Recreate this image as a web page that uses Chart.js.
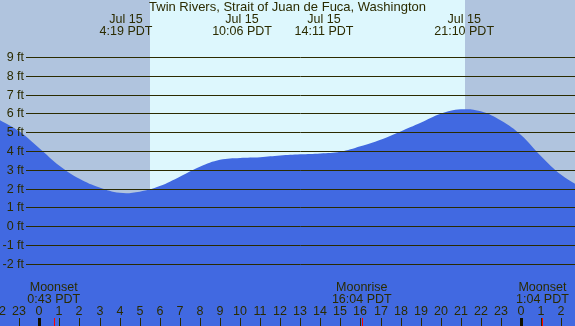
<!DOCTYPE html>
<html>
<head>
<meta charset="utf-8">
<script src="https://cdn.jsdelivr.net/npm/chart.js@4/dist/chart.umd.min.js"></script>
<style>
  html, body { margin: 0; padding: 0; background: #b0c4de; overflow: hidden; }
  canvas { display: block; }
</style>
</head>
<body>
<canvas id="tideChart" width="575" height="326"></canvas>
<script>
const stationName = 'Twin Rivers, Strait of Juan de Fuca, Washington';

// hours counted from midnight Jul 15 (negative = Jul 14, over 24 = Jul 16)
const hours = [-2, -1, 0, 1, 2, 3, 4, 5, 6, 7, 8, 9, 10, 11, 12, 13, 14,
               15, 16, 17, 18, 19, 20, 21, 22, 23, 24, 25, 26, 27];
const heights = [5.67, 5.05, 4.15, 3.22, 2.52, 2.05, 1.77, 1.83, 2.13, 2.63, 3.16, 3.53, 3.63, 3.67, 3.76,
                 3.82, 3.87, 3.96, 4.25, 4.60, 5.04, 5.50, 5.98, 6.22, 6.12, 5.62, 4.85, 3.72, 2.73, 2.05];

// high / low tide times
const tideTimes = [4.317, 10.1, 14.183, 21.167];
const tideDates = ['Jul 15', 'Jul 15', 'Jul 15', 'Jul 15'];
const tideLabels = ['4:19 PDT', '10:06 PDT', '14:11 PDT', '21:10 PDT'];

// moon events
const moonTimes = [0.717, 16.067, 25.067];
const moonEvents = ['Moonset', 'Moonrise', 'Moonset'];
const moonLabels = ['0:43 PDT', '16:04 PDT', '1:04 PDT'];

const sunrise = 5.52;
const sunset = 21.21;

const heightTicks = [-2, -1, 0, 1, 2, 3, 4, 5, 6, 7, 8, 9];
const hourTicks = [-2, -1, 0, 1, 2, 3, 4, 5, 6, 7, 8, 9, 10, 11, 12, 13, 14,
                   15, 16, 17, 18, 19, 20, 21, 22, 23, 24, 25, 26];

const nightColor = '#b0c4de';
const dayColor = '#ddf7fd';
const waterColor = '#4169e1';
const inkColor = '#2b2b00';
const font = '12.5px "Liberation Sans", Arial, sans-serif';
const titleFont = '13px "Liberation Sans", Arial, sans-serif';

const backgroundPlugin = {
    id: 'daylight',
    beforeDraw(chart) {
        const ctx = chart.ctx;
        const x = chart.scales.x;
        ctx.save();
        ctx.fillStyle = nightColor;
        ctx.fillRect(0, 0, chart.width, chart.height);
        const x1 = Math.round(x.getPixelForValue(sunrise));
        const x2 = Math.round(x.getPixelForValue(sunset));
        ctx.fillStyle = dayColor;
        ctx.fillRect(x1, 0, x2 - x1, chart.height);
        ctx.restore();
    }
};

const overlayPlugin = {
    id: 'tideOverlay',
    afterDatasetsDraw(chart) {
        const ctx = chart.ctx;
        const x = chart.scales.x;
        const y = chart.scales.y;
        const W = chart.width;
        const H = chart.height;
        ctx.save();
        ctx.font = font;
        ctx.fillStyle = inkColor;
        ctx.strokeStyle = inkColor;

        // height grid + labels
        ctx.lineWidth = 1;
        ctx.textAlign = 'right';
        ctx.textBaseline = 'middle';
        heightTicks.forEach(v => {
            const py = Math.round(y.getPixelForValue(v)) + 0.5;
            ctx.beginPath();
            ctx.moveTo(26, py);
            ctx.lineTo(W, py);
            ctx.stroke();
            ctx.fillText(v + ' ft', 24, py);
        });

        // title
        ctx.textAlign = 'center';
        ctx.font = titleFont;
        ctx.fillText(stationName, W / 2, 7.5);
        ctx.font = font;

        // tide times
        tideTimes.forEach((t, i) => {
            const px = x.getPixelForValue(t);
            ctx.fillText(tideDates[i], px, 19.5);
            ctx.fillText(tideLabels[i], px, 31.5);
        });

        // moon events
        moonTimes.forEach((t, i) => {
            const px = x.getPixelForValue(t);
            ctx.fillText(moonEvents[i], px, 288);
            ctx.fillText(moonLabels[i], px, 299.5);
        });

        // hour labels and ticks
        hourTicks.forEach(h => {
            const px = Math.round(x.getPixelForValue(h));
            ctx.fillText(String(((h % 24) + 24) % 24), px, 311.5);
            if (h % 24 === 0) {
                ctx.fillStyle = '#111100';
                ctx.fillRect(px - 1, 318, 3, H - 318);
                ctx.fillStyle = inkColor;
            } else {
                ctx.fillRect(px, 318, 1, H - 318);
            }
        });

        // moon event ticks
        ctx.fillStyle = '#ff0000';
        moonTimes.forEach(t => {
            const px = Math.round(x.getPixelForValue(t));
            ctx.fillRect(px, 318, 1, H - 318);
        });
        ctx.restore();
    }
};

const ctx = document.getElementById('tideChart');
const tideChart = new Chart(ctx, {
    type: 'line',
    data: {
        datasets: [{
            label: 'Tide',
            data: hours.map((h, i) => ({ x: h, y: heights[i] })),
            borderWidth: 0,
            pointRadius: 0,
            backgroundColor: waterColor,
            borderColor: waterColor,
            fill: 'start',
            tension: 0.4
        }]
    },
    options: {
        responsive: false,
        animation: false,
        devicePixelRatio: 1,
        layout: { padding: 0 },
        plugins: {
            legend: { display: false },
            tooltip: { enabled: false }
        },
        scales: {
            x: { type: 'linear', display: false, min: -1.96, max: 26.69 },
            y: { type: 'linear', display: false, min: -5.333, max: 12.053 }
        }
    },
    plugins: [backgroundPlugin, overlayPlugin]
});
</script>
</body>
</html>
